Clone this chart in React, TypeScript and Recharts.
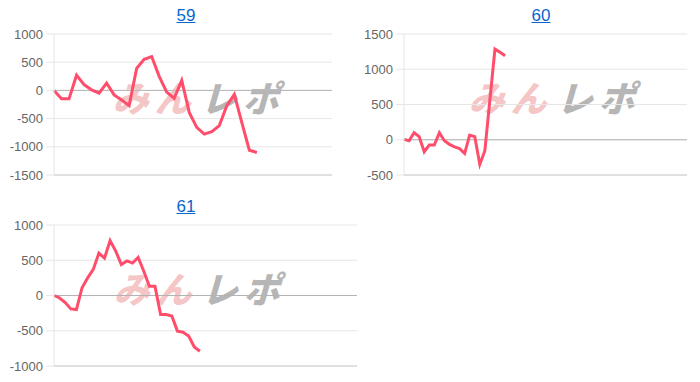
import React from 'react';
import { LineChart, Line, XAxis, YAxis, CartesianGrid, ReferenceLine } from 'recharts';

// machine numbers shown as titles
const MACHINES = ['59', '60', '61'];

// number of x slots each chart reserves (line stops early)
const SLOTS = [38, 57, 55];

// cumulative differences
const VALUES_59 = [
  0, -150, -150, 270, 100, 10, -50, 130, -80, -170, -270, 390, 550, 600, 250, -30, -140, 180,
  -390, -655, -775, -730, -625, -270, -70, -570, -1060, -1100,
];
const VALUES_60 = [
  5, -15, 100, 45, -170, -75, -75, 100, -15, -65, -100, -125, -195, 65, 45, -350, -155, 570,
  1285, 1240, 1190,
];
const VALUES_61 = [
  0, -35, -100, -190, -200, 110, 250, 370, 600, 530, 780, 630, 440, 490, 460, 540, 345, 130,
  130, -270, -270, -290, -505, -520, -575, -730, -790,
];

const TICKS_59 = [-1500, -1000, -500, 0, 500, 1000];
const TICKS_60 = [-500, 0, 500, 1000, 1500];
const TICKS_61 = [-1000, -500, 0, 500, 1000];

const LINE_COLOR = '#ff4d6b';
const FONT = '"Liberation Sans", Arial, Helvetica, sans-serif';

const toRows = (values: number[]) => values.map((v, i) => ({ i, v }));

interface MiniChartProps {
  title: string;
  values: number[];
  slots: number;
  ticks: number[];
  left: number;
  top: number;
  width: number;
  titleX: number;
  markX: number;
}

const Watermark: React.FC<{ x: number; y: number }> = ({ x, y }) => (
  <div
    style={{
      position: 'absolute',
      left: x,
      top: y,
      fontFamily: '"Noto Sans CJK JP", sans-serif',
      fontWeight: 900,
      fontSize: 36,
      lineHeight: '36px',
      letterSpacing: 6,
      transform: 'skewX(-16deg)',
      whiteSpace: 'nowrap',
    }}
  >
    <span style={{ color: 'rgba(226, 92, 92, 0.35)' }}>みん</span>
    <span style={{ color: 'rgba(110, 110, 110, 0.5)', marginLeft: 4 }}>レポ</span>
  </div>
);

const MiniChart: React.FC<MiniChartProps> = ({ title, values, slots, ticks, left, top, width, titleX, markX }) => {
  const data = toRows(values);
  return (
    <>
      <div
        style={{
          position: 'absolute',
          left: titleX - 30,
          width: 60,
          top: top - 28,
          textAlign: 'center',
          fontFamily: FONT,
          fontSize: 17,
          color: '#0a66cc',
          textDecoration: 'underline',
        }}
      >
        {title}
      </div>
      <Watermark x={markX} y={top + 44} />
      <div style={{ position: 'absolute', left, top: top - 9 }}>
        <LineChart width={width} height={160} data={data} margin={{ top: 9, right: 8, left: 0, bottom: 10 }}>
          <CartesianGrid vertical={false} stroke="#e6e6e6" />
          <XAxis dataKey="i" type="number" domain={[0, slots - 1]} hide />
          <YAxis
            domain={[ticks[0], ticks[ticks.length - 1]]}
            ticks={ticks}
            interval={0}
            width={54}
            tickSize={8}
            tickMargin={3}
            axisLine={{ stroke: '#e6e6e6' }}
            tickLine={{ stroke: '#e6e6e6' }}
            tick={{ fill: '#666', fontSize: 13, fontFamily: FONT }}
          />
          <ReferenceLine y={ticks[0]} stroke="#cccccc" />
          <ReferenceLine y={0} stroke="#b3b3b3" />
          <Line
            type="linear"
            dataKey="v"
            stroke={LINE_COLOR}
            strokeWidth={3}
            dot={false}
            isAnimationActive={false}
          />
        </LineChart>
      </div>
    </>
  );
};

export default function App() {
  return (
    <div
      style={{
        position: 'absolute',
        left: 0,
        top: 0,
        width: 700,
        height: 382,
        background: '#fff',
        overflow: 'hidden',
      }}
    >
      <MiniChart title={MACHINES[0]} values={VALUES_59} slots={SLOTS[0]} ticks={TICKS_59}
        left={0} top={34} width={340} titleX={186} markX={117} />
      <MiniChart title={MACHINES[1]} values={VALUES_60} slots={SLOTS[1]} ticks={TICKS_60}
        left={350} top={34} width={345} titleX={541} markX={473} />
      <MiniChart title={MACHINES[2]} values={VALUES_61} slots={SLOTS[2]} ticks={TICKS_61}
        left={0} top={225} width={365} titleX={186} markX={118} />
    </div>
  );
}
